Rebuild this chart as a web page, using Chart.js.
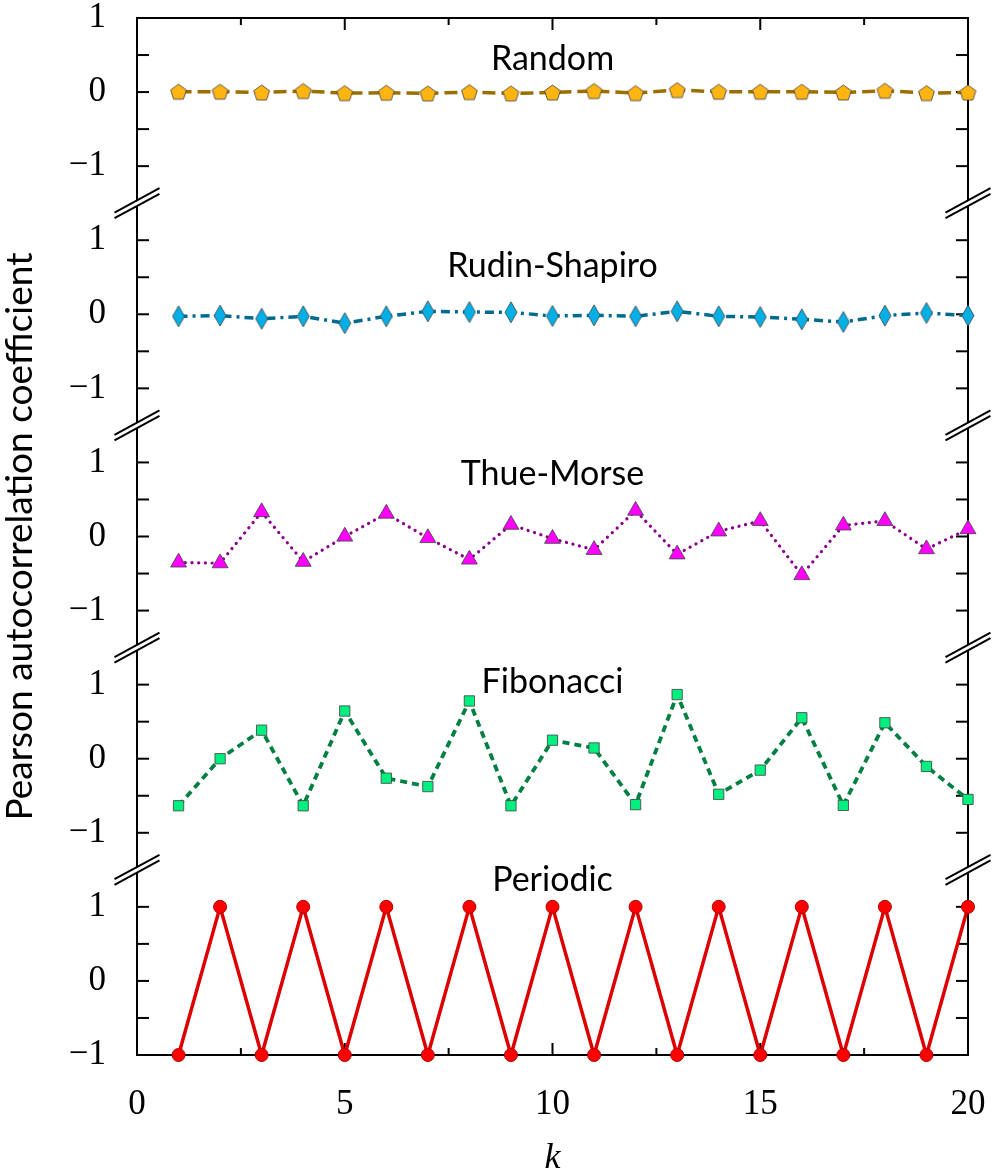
<!DOCTYPE html>
<html lang="en">
<head>
    <meta charset="UTF-8">
    <title>Pearson autocorrelation coefficient</title>

    <!-- Chart.js -->
    <script src="https://cdn.jsdelivr.net/npm/chart.js"></script>

    <style>
        body {
            margin: 0;
            background: #fff;
        }
    </style>
</head>
<body>
    <canvas id="chart" width="996" height="1171"></canvas>

    <script>
        // lag k and the autocorrelation of each sequence
        const lags = [1, 2, 3, 4, 5, 6, 7, 8, 9, 10, 11, 12, 13, 14, 15, 16, 17, 18, 19, 20];
        const randomVals = [0.005, 0.005, -0.005, 0.014, -0.014, -0.009, -0.018, 0.0, -0.018, -0.005,
                            0.014, -0.014, 0.027, 0.005, 0.005, 0.005, -0.005, 0.018, -0.014, -0.005];
        const rudinShapiroVals = [-0.027, -0.018, -0.06, -0.027, -0.12, -0.027, 0.04, 0.03, 0.027, -0.023,
                                  -0.014, -0.027, 0.04, -0.027, -0.036, -0.068, -0.104, -0.018, 0.018, -0.018];
        const thueMorseVals = [-0.35, -0.36, 0.33, -0.34, 0.0, 0.31, -0.02, -0.31, 0.16, -0.03,
                               -0.18, 0.35, -0.24, 0.07, 0.21, -0.52, 0.15, 0.21, -0.17, 0.10];
        const fibonacciVals = [-0.635, 0.0, 0.385, -0.635, 0.644, -0.263, -0.376, 0.78, -0.635, 0.25,
                               0.145, -0.62, 0.866, -0.48, -0.154, 0.553, -0.63, 0.485, -0.104, -0.55];
        const periodicVals = [-1, 1, -1, 1, -1, 1, -1, 1, -1, 1, -1, 1, -1, 1, -1, 1, -1, 1, -1, 1];

        const seriesNames = ['Random', 'Rudin-Shapiro', 'Thue-Morse', 'Fibonacci', 'Periodic'];
        const xTicks = [0, 5, 10, 15, 20];
        const yTicks = [-1, 0, 1];

        // panels are stacked on one axis, 3 units apart (Periodic at the bottom)
        const STEP = 3;
        const panelOffset = name => (seriesNames.length - 1 - seriesNames.indexOf(name)) * STEP;

        const serifFont = 'Liberation Serif, DejaVu Serif, serif';
        const sansFont = 'Lato, Open Sans, sans-serif';

        function makePentagon(fill, stroke, r) {
            const c = document.createElement('canvas');
            const size = Math.ceil(2 * r + 2);
            c.width = size; c.height = size;
            const g = c.getContext('2d');
            g.beginPath();
            for (let i = 0; i < 5; i++) {
                const a = -Math.PI / 2 + i * 2 * Math.PI / 5;
                const px = size / 2 + r * Math.cos(a), py = size / 2 + r * Math.sin(a) + 0.8;
                if (i) g.lineTo(px, py); else g.moveTo(px, py);
            }
            g.closePath();
            g.fillStyle = fill; g.fill();
            g.strokeStyle = stroke; g.lineWidth = 1; g.stroke();
            return c;
        }

        function makeDiamond(fill, stroke, w, h) {
            const c = document.createElement('canvas');
            c.width = w + 2; c.height = h + 2;
            const g = c.getContext('2d');
            g.beginPath();
            g.moveTo(c.width / 2, 1);
            g.lineTo(c.width - 1, c.height / 2);
            g.lineTo(c.width / 2, c.height - 1);
            g.lineTo(1, c.height / 2);
            g.closePath();
            g.fillStyle = fill; g.fill();
            g.strokeStyle = stroke; g.lineWidth = 1; g.stroke();
            return c;
        }

        const edge = 'rgba(70,70,70,0.85)';

        function series(name, vals, style) {
            const off = panelOffset(name);
            return Object.assign({
                label: name,
                data: lags.map((k, i) => ({ x: k, y: vals[i] + off })),
                fill: false,
                tension: 0,
                clip: false,
                pointBorderWidth: 1,
                pointBorderColor: edge
            }, style);
        }

        const datasets = [
            series('Random', randomVals, {
                borderColor: '#9a6f00', borderWidth: 3.5, borderDash: [13, 6],
                pointStyle: makePentagon('#ffb511', edge, 8.3), pointRadius: 8,
                pointBackgroundColor: '#ffb511'
            }),
            series('Rudin-Shapiro', rudinShapiroVals, {
                borderColor: '#006b8f', borderWidth: 3.5, borderDash: [9, 5, 3, 5],
                pointStyle: makeDiamond('#00b0e6', edge, 12, 21), pointRadius: 8,
                pointBackgroundColor: '#00b0e6'
            }),
            series('Thue-Morse', thueMorseVals, {
                borderColor: '#8b008b', borderWidth: 3.2, borderDash: [0.1, 6.6], borderCapStyle: 'round',
                pointStyle: 'triangle', pointRadius: 9.2,
                pointBackgroundColor: '#ff00ff'
            }),
            series('Fibonacci', fibonacciVals, {
                borderColor: '#008040', borderWidth: 3.8, borderDash: [7, 5],
                pointStyle: 'rect', pointRadius: 7.3,
                pointBackgroundColor: '#00f080'
            }),
            series('Periodic', periodicVals, {
                borderColor: '#dd0000', borderWidth: 3.5,
                pointStyle: 'circle', pointRadius: 6.5,
                pointBackgroundColor: '#ff0000', pointBorderColor: '#b00000'
            })
        ];

        // text baselines of the panel names, in units above each panel's zero
        const titleLift = { 'Random': 0.30, 'Rudin-Shapiro': 0.50, 'Thue-Morse': 0.69, 'Fibonacci': 0.89, 'Periodic': 1.215 };

        const framePlugin = {
            id: 'frame',
            beforeDatasetsDraw(chart) {
                const { ctx, chartArea: a, scales: { x, y } } = chart;
                const seg = (x1, y1, x2, y2) => { ctx.beginPath(); ctx.moveTo(x1, y1); ctx.lineTo(x2, y2); ctx.stroke(); };
                ctx.save();
                ctx.strokeStyle = '#000';
                ctx.lineWidth = 2;
                ctx.strokeRect(a.left, a.top, a.right - a.left, a.bottom - a.top);

                // inward ticks on both sides
                y.ticks.forEach(t => {
                    const py = y.getPixelForValue(t.value);
                    seg(a.left, py, a.left + 12, py);
                    seg(a.right - 12, py, a.right, py);
                });
                x.ticks.forEach(t => {
                    const px = x.getPixelForValue(t.value);
                    const len = xTicks.includes(t.value) ? 12 : 7;
                    seg(px, a.bottom, px, a.bottom - len);
                    seg(px, a.top, px, a.top + len);
                });

                // axis breaks between the panels
                for (let i = 0; i < seriesNames.length - 1; i++) {
                    const py = y.getPixelForValue(i * STEP + STEP / 2);
                    [a.left, a.right].forEach(px => {
                        const dx = 22.5, dy = 12.2, g = 2.8;
                        ctx.fillStyle = '#fff';
                        ctx.beginPath();
                        ctx.moveTo(px - dx, py + dy - g);
                        ctx.lineTo(px + dx, py - dy - g);
                        ctx.lineTo(px + dx, py - dy + g);
                        ctx.lineTo(px - dx, py + dy + g);
                        ctx.closePath();
                        ctx.fill();
                        seg(px - dx, py + dy - g, px + dx, py - dy - g);
                        seg(px - dx, py + dy + g, px + dx, py - dy + g);
                    });
                }
                ctx.restore();
            },
            afterDatasetsDraw(chart) {
                const { ctx, chartArea: a, scales: { y } } = chart;
                ctx.save();
                ctx.fillStyle = '#000';
                ctx.font = '34px ' + sansFont;
                ctx.textAlign = 'center';
                ctx.textBaseline = 'alphabetic';
                seriesNames.forEach(name => {
                    const py = y.getPixelForValue(panelOffset(name) + titleLift[name]);
                    ctx.fillText(name, (a.left + a.right) / 2, py);
                });
                ctx.restore();
            }
        };

        // fixed axis sizes, and no extra room for labels hanging over the plot edges
        function fixSize(s, w, h) {
            if (w) s.width = w;
            if (h) s.height = h;
            s.paddingLeft = 0; s.paddingRight = 0;
            s.paddingTop = 0; s.paddingBottom = 0;
        }

        const chart = new Chart(document.getElementById('chart').getContext('2d'), {
            type: 'line',
            data: { datasets: datasets },
            options: {
                responsive: false,
                animation: false,
                devicePixelRatio: 1,
                layout: { padding: { top: 18, right: 28, bottom: 0, left: 0 }, autoPadding: false },
                plugins: { legend: { display: false }, tooltip: { enabled: false } },
                scales: {
                    x: {
                        type: 'linear',
                        min: 0,
                        max: 20,
                        grid: { display: false, drawTicks: false },
                        border: { display: false },
                        afterBuildTicks: s => {
                            const t = [];
                            xTicks.forEach((v, i) => {
                                t.push({ value: v });
                                if (i < xTicks.length - 1) t.push({ value: (v + xTicks[i + 1]) / 2 });
                            });
                            s.ticks = t;
                        },
                        ticks: {
                            autoSkip: false,
                            maxRotation: 0,
                            padding: 29,
                            color: '#000',
                            font: { family: serifFont, size: 35 },
                            callback: v => xTicks.includes(v) ? String(v) : ''
                        },
                        title: {
                            display: true,
                            text: 'k',
                            color: '#000',
                            font: { family: serifFont, size: 36, style: 'italic' },
                            padding: { top: 0, bottom: -9 }
                        },
                        afterFit: s => fixSize(s, 0, 116)
                    },
                    y: {
                        type: 'linear',
                        min: -1,
                        max: (seriesNames.length - 1) * STEP + 1,
                        grid: { display: false, drawTicks: false },
                        border: { display: false },
                        afterBuildTicks: s => {
                            const t = [];
                            seriesNames.forEach(name => {
                                const off = panelOffset(name);
                                [-1, -0.5, 0, 0.5, 1].forEach(r => t.push({ value: off + r }));
                            });
                            s.ticks = t.sort((p, q) => p.value - q.value);
                        },
                        ticks: {
                            autoSkip: false,
                            padding: 31,
                            color: '#000',
                            font: { family: serifFont, size: 35 },
                            callback: v => {
                                const r = v - STEP * Math.round(v / STEP);
                                if (!yTicks.includes(r)) return '';
                                return r < 0 ? '\u2212' + Math.abs(r) : String(r);
                            }
                        },
                        title: {
                            display: true,
                            text: 'Pearson autocorrelation coefficient',
                            color: '#000',
                            font: { family: sansFont, size: 37 },
                            padding: { top: -2, bottom: 0 }
                        },
                        afterFit: s => fixSize(s, 137, 0)
                    }
                }
            },
            plugins: [framePlugin]
        });
    </script>
</body>
</html>
